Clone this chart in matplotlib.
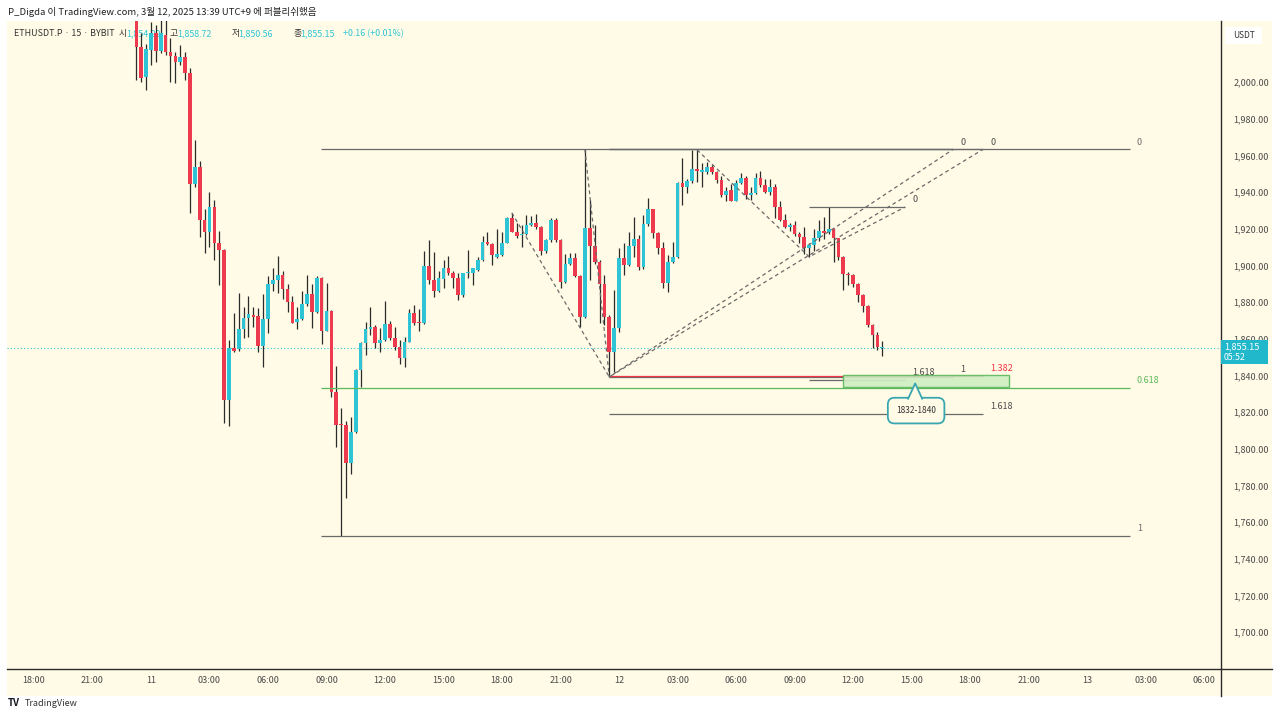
import matplotlib
matplotlib.use('Agg')
import matplotlib.pyplot as plt
import matplotlib.dates as mdates
from matplotlib.patches import Rectangle, Polygon
from matplotlib.lines import Line2D
import numpy as np
import pandas as pd

plt.rcParams['font.family'] = ['Noto Sans CJK KR', 'DejaVu Sans']

# ETHUSDT.P 15분봉 (BYBIT), 3/10 23:15 부터
start = '2025-03-10 23:15'
opens = [2042, 2019.3, 2003, 2017.5, 2026.6, 2017, 2025.6, 2016.5, 2014.2, 2011,
         2013.8, 2004.7, 1944.4, 1953.8, 1924.7, 1918, 1932, 1912, 1908.4, 1826.5,
         1854.7, 1854.2, 1865.1, 1871.1, 1873, 1872.4, 1856, 1870.5, 1889.8, 1892,
         1894.5, 1887, 1880.2, 1869, 1870.5, 1878.9, 1884.4, 1874.7, 1892.9, 1864.4,
         1875.3, 1831.1, 1813.5, 1813, 1792.4, 1809, 1843, 1857.5, 1865.1, 1866.5,
         1857.5, 1859.3, 1868, 1860.2, 1855.3, 1849.3, 1858.4, 1873.8, 1869.2, 1868.7,
         1899.6, 1892, 1886.2, 1892.4, 1898.4, 1895.6, 1892.9, 1883.8, 1895.6, 1895.6,
         1897.5, 1902.9, 1913, 1911.6, 1904.4, 1905.6, 1912.4, 1925.6, 1918.4, 1916.5,
         1917, 1922, 1923, 1921, 1908, 1913.8, 1924.7, 1913.8, 1891, 1900.7,
         1903.8, 1894.2, 1872, 1920.2, 1910.5, 1902, 1889.8, 1872, 1852.9, 1865.6,
         1903.8, 1900.2, 1910.5, 1914.2, 1898.9, 1922.5, 1930.5, 1917.5, 1909.3, 1890.6,
         1902, 1904.7, 1944.7, 1942.5, 1946.2, 1952.4, 1951.2, 1951.1, 1953.8, 1950.7,
         1946.5, 1938.4, 1941.1, 1935.3, 1945.1, 1947.5, 1938.4, 1939.6, 1947.5, 1943.8,
         1940.2, 1943, 1932, 1924.7, 1921, 1922, 1917.1, 1915.3, 1909.3, 1911.1,
         1914.7, 1918.9, 1918, 1919.6, 1914.7, 1904.4, 1895.3, 1894.5, 1889.8, 1883.8,
         1877.8, 1867.5, 1862, 1854.99]
highs = [2048, 2027, 2021, 2033, 2031, 2036, 2036, 2023.8, 2016.5, 2020,
         2016.4, 2007.4, 1968.4, 1956.9, 1930.5, 1939.8, 1935.6, 1918.9, 1909, 1859.3,
         1873.8, 1885.1, 1877.5, 1883.3, 1877.5, 1877, 1884.4, 1894.2, 1898.4, 1905,
         1897, 1890, 1883.3, 1877.5, 1886.2, 1894.7, 1889.8, 1894.2, 1893.8, 1890.2,
         1875.5, 1845.1, 1822.1, 1815, 1817.5, 1843.5, 1858, 1869.3, 1877.1, 1867.5,
         1865.6, 1880.8, 1869.8, 1866.3, 1859.3, 1860.7, 1876, 1878.4, 1876, 1907.6,
         1913.8, 1907.4, 1897.1, 1902.9, 1905.1, 1896.7, 1895.6, 1896, 1908.4, 1898.6,
         1904.4, 1916, 1918.4, 1912, 1919.6, 1918, 1926.6, 1928.7, 1923, 1922,
         1927.5, 1927, 1928, 1921.5, 1914.5, 1926, 1926, 1914.5, 1906.2, 1906.6,
         1907, 1894.5, 1963.3, 1935.6, 1922, 1903, 1894.7, 1873, 1886.5, 1909.3,
         1912.4, 1918.4, 1926.5, 1916.5, 1927.5, 1936.5, 1931, 1918, 1913, 1905.6,
         1912.9, 1945.5, 1958.4, 1947, 1962.9, 1963, 1955.6, 1956.6, 1955, 1951.5,
         1948.5, 1943, 1944.5, 1946.5, 1950.2, 1949, 1943, 1950.2, 1951.6, 1947,
         1947, 1944.5, 1935, 1928, 1923, 1924, 1918, 1920.7, 1912, 1920,
         1924.5, 1926.5, 1932, 1920.5, 1915, 1905, 1896.5, 1895.5, 1890.5, 1884.5,
         1878.5, 1868, 1863.5, 1858.72]
lows = [2001, 2000, 1995.6, 2009.3, 2011, 2016, 2015, 2000.2, 1999.3, 2009.3,
        2001, 1928.7, 1942.9, 1915.6, 1906.9, 1910.2, 1902.9, 1889.3, 1814.2, 1812.4,
        1852.9, 1853.5, 1860.2, 1861.1, 1866.5, 1852.9, 1844.8, 1863, 1886, 1885,
        1881.5, 1874.7, 1868.4, 1865.1, 1870, 1878, 1866, 1874, 1857.1, 1864,
        1828.4, 1800.7, 1752.4, 1773, 1786.2, 1808.5, 1833.5, 1851, 1861.9, 1854.7,
        1852.9, 1859, 1859.5, 1853.8, 1846.2, 1844.7, 1858, 1867.5, 1864.4, 1868,
        1890, 1882.9, 1885.5, 1887.5, 1895, 1887.5, 1881.1, 1883, 1892.9, 1889.3,
        1897, 1902.5, 1911, 1900.2, 1904, 1905, 1912, 1918, 1915, 1910.2,
        1916.5, 1921.5, 1920, 1905.6, 1907, 1913, 1913, 1887.5, 1890.2, 1900,
        1893.5, 1866.5, 1871.5, 1892, 1901, 1868.4, 1867.5, 1839.2, 1842, 1863.8,
        1894.7, 1899.5, 1904.7, 1897.5, 1898, 1921.5, 1914.7, 1906, 1887.5, 1885.6,
        1901.5, 1904, 1932.9, 1939.5, 1945, 1945.6, 1942.9, 1950, 1950, 1944.7,
        1937.5, 1935.3, 1935, 1935, 1944.5, 1936, 1935.6, 1939, 1943, 1939.5,
        1938.5, 1925.6, 1924, 1920.5, 1919, 1916, 1912, 1906, 1904.7, 1908,
        1913.5, 1914.5, 1917, 1902, 1903, 1886.5, 1889.3, 1888, 1880.2, 1874.7,
        1866.5, 1854.7, 1853.8, 1850.56]
closes = [2019, 2002, 2017.8, 2026.6, 2017, 2026.6, 2016.2, 2014.2, 2010.7, 2013.5,
          2004.7, 1944.4, 1953.8, 1924.7, 1918, 1932, 1912, 1908.4, 1826.5, 1854.7,
          1853.5, 1865.1, 1871.1, 1873.5, 1872, 1856, 1870.5, 1889.8, 1892, 1894.5,
          1887, 1880.2, 1868.7, 1870.5, 1878.9, 1884.4, 1874.7, 1892.9, 1864.4, 1875.3,
          1831.1, 1813, 1812.8, 1792.4, 1809, 1843, 1857.5, 1865.1, 1866.5, 1857.5,
          1859.3, 1868, 1860.2, 1855.3, 1849.3, 1858.4, 1873.8, 1868.7, 1868.7, 1899.6,
          1892, 1886.2, 1892.9, 1898.4, 1895.6, 1892.9, 1883.8, 1895.6, 1896.4, 1898.4,
          1902.9, 1912.9, 1911.6, 1905.6, 1906, 1912.4, 1925.6, 1918.4, 1916, 1917.3,
          1922, 1923.3, 1920.8, 1908, 1913.8, 1924.7, 1913.8, 1891, 1900.7, 1903.8,
          1894.2, 1872, 1920.2, 1910.5, 1902, 1889.8, 1872, 1852.9, 1865.6, 1903.8,
          1900.2, 1910.5, 1914.2, 1898.9, 1922.5, 1930.5, 1917.5, 1909.3, 1890.6, 1902,
          1904.7, 1944.7, 1942.5, 1946.2, 1952.4, 1951.6, 1951.8, 1953.8, 1951, 1946.5,
          1938.4, 1940.7, 1935.3, 1945.1, 1947.5, 1938.4, 1939.6, 1947.5, 1943.8, 1940.2,
          1943, 1932, 1924.7, 1921, 1922, 1917.1, 1915.3, 1909.3, 1911.1, 1914.7,
          1918.9, 1917.8, 1919.6, 1914.7, 1904.4, 1895.3, 1894.5, 1889.8, 1883.8, 1877.8,
          1867.5, 1862, 1855.6, 1855.15]

price_ticks = list(range(1700, 2001, 20))
last_price = 1855.15
countdown = '05:52'

# 피보나치 도구 (시간, 가격)
retr_span = ('2025-03-11 08:43', '2025-03-13 02:12')
retr_levels = [(0, 1963.3), (0.618, 1833.0), (1, 1752.4)]
fib_ext = [
    # A, B, C, 레벨
    {'pts': [('2025-03-11 22:15', 1963.3), ('2025-03-11 23:30', 1839.2), ('2025-03-12 17:08', 1963.3)],
     'levels': [('0', 1963.3, 'gray'), ('1', 1839.2, 'gray')]},
    {'pts': [('2025-03-11 18:30', 1928.7), ('2025-03-11 23:30', 1839.2), ('2025-03-12 18:40', 1963.3)],
     'levels': [('0', 1963.3, 'gray'), ('1.382', 1839.9, 'red'), ('1.618', 1818.8, 'gray')]},
    {'pts': [('2025-03-12 04:00', 1963.0), ('2025-03-12 09:45', 1904.7), ('2025-03-12 14:40', 1931.8)],
     'levels': [('0', 1931.8, 'gray'), ('1.618', 1837.4, 'gray')]},
]
zone = ('2025-03-12 11:29', '2025-03-12 20:00', 1833.4, 1840.3)
callout_text = '1832-1840'
callout_pos = ('2025-03-12 15:14', 1820.8)
callout_tip = ('2025-03-12 15:11', 1835.6)

CREAM = '#fffbe6'
UP = '#2ec4d6'
DOWN = '#ee3a4e'
WICK = '#2b2b2b'
TXT = '#4a4a4a'
LVL = '#6a6a6a'
RED = '#f23645'
GREEN = '#5cb85c'
TEAL = '#3aa6b0'

W, H = 1280, 717
fig = plt.figure(figsize=(W / 100, H / 100), dpi=100, facecolor='white')


def fx(p):
    return p / W


def fy(p):
    return 1 - p / H


fig.add_artist(Rectangle((fx(7), fy(696)), fx(1272) - fx(7), fy(21) - fy(696),
                         transform=fig.transFigure, fc=CREAM, ec='none', zorder=-5))
ax = fig.add_axes([fx(7), fy(668), fx(1221) - fx(7), fy(21) - fy(668)])
ax.set_facecolor('none')

t = mdates.date2num(pd.date_range(start, periods=len(opens), freq='15min'))
o = np.array(opens)
h = np.array(highs)
l = np.array(lows)
c = np.array(closes)
cols = [UP if cc >= oo else DOWN for oo, cc in zip(o, c)]
w = 0.19 / 24
ax.vlines(t, l, h, color=WICK, lw=0.9, zorder=3)
ax.bar(t, np.maximum(np.abs(c - o), 0.5), bottom=np.minimum(o, c), width=w,
       color=cols, lw=0, zorder=4)

ax.set_xlim(mdates.date2num(pd.Timestamp('2025-03-10 16:37')),
            mdates.date2num(pd.Timestamp('2025-03-13 06:52')))
ax.set_ylim(1680.4, 2033.3)

# 현재가 점선
ax.axhline(last_price, color=UP, ls=(0, (1, 2)), lw=0.8, zorder=2)

# 피보나치 되돌림
r0, r1 = [mdates.date2num(pd.Timestamp(s)) for s in retr_span]
for lv, p in retr_levels:
    col = GREEN if lv == 0.618 else LVL
    ax.hlines(p, r0, r1, color=col, lw=0.9, zorder=5)
    ax.annotate(f'{lv:g}', (r1, p), xytext=(5, 2), textcoords='offset points',
                fontsize=6.5, color=col, va='bottom', ha='left')

# 추세 기반 피보나치 확장
colmap = {'gray': LVL, 'red': RED}
for f in fib_ext:
    xs = [mdates.date2num(pd.Timestamp(a)) for a, _ in f['pts']]
    ys = [b for _, b in f['pts']]
    ax.plot(xs, ys, color=LVL, ls=(0, (3, 2.5)), lw=0.9, zorder=6)
    for lab, p, cn in f['levels']:
        ax.hlines(p, xs[1], xs[2], color=colmap[cn], lw=0.9, zorder=5)
        ax.annotate(lab, (xs[2], p), xytext=(5, 2), textcoords='offset points',
                    fontsize=6.5, color=colmap[cn] if cn == 'red' else TXT,
                    va='bottom', ha='left')

# 매수 구간 박스
z0, z1 = [mdates.date2num(pd.Timestamp(s)) for s in zone[:2]]
ax.add_patch(Rectangle((z0, zone[2]), z1 - z0, zone[3] - zone[2],
                       fc='#cdeec3', ec=GREEN, lw=1.0, alpha=0.9, zorder=5))

cx = mdates.date2num(pd.Timestamp(callout_pos[0]))
ax.text(cx, callout_pos[1], callout_text, ha='center', va='center', fontsize=6,
        color='#333333', zorder=8,
        bbox=dict(boxstyle='round,pad=1.0,rounding_size=0.8', fc=CREAM, ec=TEAL, lw=1.3))
tx_ = mdates.date2num(pd.Timestamp(callout_tip[0]))
half = 0.36 / 24
base = 1827.3
ax.add_patch(Polygon([(tx_ - half, base - 0.6), (tx_, callout_tip[1]), (tx_ + half, base - 0.6)],
                     closed=True, fc=CREAM, ec='none', zorder=9))
ax.plot([tx_ - half, tx_, tx_ + half], [base, callout_tip[1], base], color=TEAL, lw=1.3,
        zorder=10, solid_joinstyle='round')

# 축
xt = pd.date_range('2025-03-10 18:00', '2025-03-13 06:00', freq='3h')
ax.set_xticks(mdates.date2num(xt))
ax.set_xticklabels([str(d.day) if d.hour == 0 else d.strftime('%H:%M') for d in xt])
ax.yaxis.tick_right()
ax.set_yticks(price_ticks)
ax.set_yticklabels([f'{v:,.2f}' for v in price_ticks])
ax.tick_params(axis='x', length=0, pad=6, labelsize=6.5, colors=TXT)
ax.tick_params(axis='y', length=0, pad=9, labelsize=6.5, colors=TXT)
for s in ax.spines.values():
    s.set_visible(False)

fig.add_artist(Line2D([fx(7), fx(1272)], [fy(668.5), fy(668.5)], color='#2b2b2b', lw=1.0))
fig.add_artist(Line2D([fx(1221), fx(1221)], [fy(21), fy(696)], color='#2b2b2b', lw=1.0))

# 가격 태그
fig.add_artist(Rectangle((fx(1221), fy(364)), fx(1268) - fx(1221), fy(340) - fy(364),
                         transform=fig.transFigure, fc='#22b8cc', ec='none', zorder=10))
fig.text(fx(1224), fy(346.5), f'{last_price:,.2f}', fontsize=6.5, color='white',
         va='center', ha='left', zorder=11)
fig.text(fx(1224), fy(357.5), countdown, fontsize=6.3, color='white',
         va='center', ha='left', zorder=11)
fig.add_artist(Rectangle((fx(1225), fy(44)), fx(1262) - fx(1225), fy(27) - fy(44),
                         transform=fig.transFigure, fc='white', ec='none', zorder=10))
fig.text(fx(1243.5), fy(35.5), 'USDT', fontsize=6, color='#333333', va='center',
         ha='center', zorder=11)

# 상단 텍스트
fig.text(fx(8), fy(12), 'P_Digda 이 TradingView.com, 3월 12, 2025 13:39 UTC+9 에 퍼블리쉬했음',
         fontsize=6.9, color='#222222', va='center', ha='left')
legend = [('ETHUSDT.P · 15 · BYBIT', 14, '#333333'), ('시', 119, '#333333'),
          ('1,854.99', 126, UP), ('고', 170, '#333333'), ('1,858.72', 177, UP),
          ('저', 232, '#333333'), ('1,850.56', 238, UP), ('종', 293, '#333333'),
          ('1,855.15', 300, UP), ('+0.16 (+0.01%)', 343, UP)]
for s, xp, col in legend:
    ax.text(fx(xp), fy(33.5), s, transform=fig.transFigure, fontsize=6.4, color=col,
            va='center', ha='left', zorder=1, clip_on=False)

fig.text(fx(8), fy(703), 'TV', fontsize=7, fontweight='bold', color='#131722',
         va='center', ha='left')
fig.text(fx(25), fy(703), 'TradingView', fontsize=6.5, color='#333333',
         va='center', ha='left')

fig.savefig('out.png', dpi=100, facecolor='white')
